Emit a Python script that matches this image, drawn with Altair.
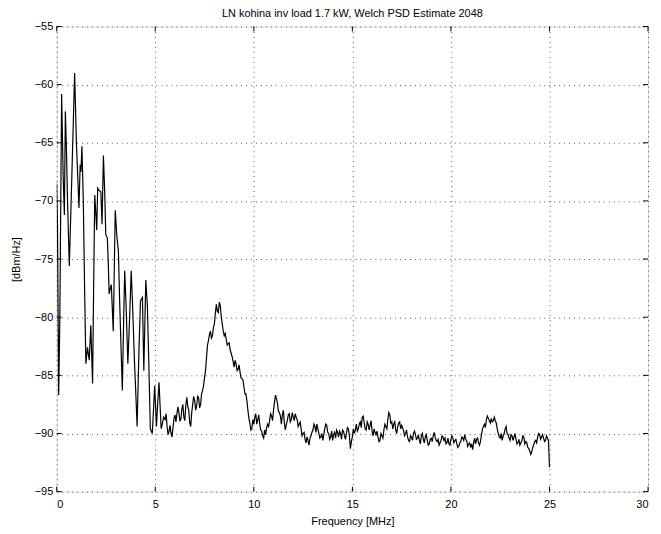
import altair as alt
import pandas as pd

# Low-frequency part (irregular sampling of the strong peaks), MHz / dBm/Hz
freq_a = [0.0, 0.04, 0.1, 0.16, 0.25, 0.33, 0.39, 0.44, 0.5, 0.55, 0.64, 0.75, 0.91, 1.0,
          1.13, 1.19, 1.23, 1.28, 1.35, 1.42, 1.48, 1.56, 1.65, 1.73, 1.82, 1.87, 1.93, 2.0,
          2.03, 2.08, 2.15, 2.24, 2.3, 2.37, 2.44, 2.49, 2.57, 2.62, 2.66, 2.72, 2.77, 2.87,
          2.92, 2.97, 3.05, 3.13, 3.2, 3.33, 3.4, 3.45, 3.52, 3.61, 3.7, 3.78, 3.85, 3.95,
          4.0, 4.08, 4.17, 4.25, 4.35, 4.42, 4.52, 4.6, 4.67, 4.75, 4.85, 4.91, 4.97, 5.06,
          5.12, 5.19, 5.3, 5.43]
psd_a = [-68.5, -72.0, -86.7, -80.0, -60.8, -68.0, -71.2, -62.3, -66.0, -70.0, -75.6, -69.0,
         -59.0, -65.0, -70.6, -66.9, -67.5, -65.3, -70.0, -78.0, -84.0, -82.6, -83.7, -80.7,
         -85.7, -78.0, -69.5, -71.5, -72.5, -68.9, -69.1, -69.2, -72.0, -66.1, -69.5, -72.9,
         -73.2, -75.5, -78.0, -77.5, -77.2, -81.2, -76.0, -70.8, -73.0, -74.3, -79.0, -86.3,
         -80.0, -76.0, -79.0, -84.0, -80.0, -76.0, -79.0, -84.0, -86.0, -89.4, -83.0, -78.6,
         -78.3, -84.6, -76.8, -79.0, -83.7, -89.6, -90.0, -88.0, -85.9, -89.4, -87.5, -85.6,
         -89.6, -88.6]

# 5.5 ... 25.0 MHz, 0.1 MHz steps
psd_b = [-88.8, -89.4, -89.8, -90.0, -89.5,
         -88.4, -88.3, -88.2, -88.8, -87.5, -88.9, -86.9, -88.0, -89.4, -87.5,
         -87.2, -87.6, -86.9, -87.5, -86.3, -85.2, -83.5, -82.0, -81.2, -81.6,
         -80.6, -78.9, -79.6, -79.0, -80.6, -81.6, -81.9, -82.3, -82.8, -83.4,
         -84.3, -84.0, -84.5, -84.7, -85.3, -86.0, -86.6, -88.0, -89.1, -89.6,
         -89.2, -88.3, -88.8, -89.2, -89.8, -90.4, -90.1, -89.2, -88.9, -88.5,
         -88.0, -86.7, -87.4, -88.2, -89.2, -88.0, -89.7, -88.9, -88.3, -88.8,
         -88.6, -88.3, -88.8, -89.2, -89.6, -90.0, -90.5, -90.3, -91.0, -90.2,
         -89.7, -89.4, -89.2, -90.0, -90.3, -90.6, -89.6, -89.3, -90.0, -90.3,
         -90.6, -89.9, -89.7, -90.3, -90.0, -89.7, -90.2, -90.0, -89.6, -91.3,
         -90.3, -90.0, -89.2, -89.6, -89.0, -88.6, -89.1, -89.7, -89.2, -89.3,
         -89.8, -89.6, -90.1, -90.3, -90.6, -90.2, -89.7, -89.4, -88.8, -88.4,
         -89.0, -89.2, -89.7, -89.4, -89.0, -89.3, -89.8, -90.0, -90.3, -90.7,
         -90.3, -90.0, -90.1, -90.4, -90.6, -90.2, -90.5, -90.3, -90.6, -90.9,
         -90.4, -90.2, -90.3, -90.7, -91.0, -90.6, -90.3, -90.4, -90.8, -90.9,
         -90.5, -90.4, -90.6, -90.9, -91.1, -90.7, -90.4, -90.1, -90.6, -90.9,
         -91.2, -91.4, -90.4, -90.5, -90.8, -90.7, -89.6, -89.2, -88.8, -88.7,
         -89.1, -89.0, -88.6, -89.1, -90.0, -90.4, -90.6, -90.0, -89.4, -90.1,
         -90.6, -90.2, -90.3, -90.5, -90.8, -91.0, -90.6, -90.3, -90.7, -91.2,
         -91.5, -91.6, -91.0, -90.6, -90.3, -90.1, -90.3, -90.4, -90.6, -90.4,
         -92.9]
freq_b = [round(5.5 + 0.1 * i, 2) for i in range(len(psd_b))]

# in-between bins 5.55 ... 24.95 MHz (noise texture)
psd_c = [-88.3, -90.1, -89.3, -90.3, -88.7,
         -89.0, -87.7, -88.9, -87.9, -88.6, -87.6, -87.7, -89.1, -88.2, -86.8,
         -88.0, -86.8, -87.8, -86.6, -85.9, -84.6, -82.4, -81.5, -81.8, -80.9,
         -79.6, -79.5, -78.7, -80.0, -81.2, -81.4, -82.4, -82.2, -83.1, -83.8,
         -83.7, -84.6, -84.1, -85.2, -85.4, -86.6, -87.2, -88.7, -89.7, -88.8,
         -88.6, -89.2, -88.4, -89.7, -90.2, -89.7, -89.5, -89.4, -88.3, -88.9,
         -87.3, -87.0, -88.1, -88.5, -88.4, -89.1, -89.2, -88.4, -89.0, -88.2,
         -88.9, -88.6, -89.4, -89.0, -90.2, -89.9, -90.8, -90.6, -90.4, -89.9,
         -89.2, -89.9, -89.6, -90.4, -90.0, -90.1, -89.2, -89.9, -90.5, -89.8,
         -90.1, -90.4, -89.9, -89.8, -90.5, -89.8, -90.5, -89.5, -90.2, -90.7,
         -89.6, -89.7, -89.8, -89.2, -89.5, -88.5, -89.6, -89.0, -89.7, -88.9,
         -90.2, -89.9, -89.8, -90.7, -90.0, -90.4, -89.2, -89.6, -88.2, -89.1,
         -89.6, -89.0, -90.0, -89.1, -89.6, -89.5, -90.2, -89.7, -90.6, -90.2,
         -90.6, -89.8, -90.5, -90.1, -90.9, -90.0, -90.8, -90.1, -91.0, -90.5,
         -90.7, -89.9, -90.6, -90.5, -90.8, -90.2, -90.6, -90.9, -90.4, -91.0,
         -90.2, -90.8, -90.5, -91.2, -90.8, -90.3, -90.6, -90.5, -91.1, -90.8,
         -90.9, -90.8, -90.9, -90.4, -91.0, -90.1, -89.4, -89.5, -88.5, -88.9,
         -88.7, -88.9, -88.9, -89.6, -90.3, -90.0, -90.2, -89.6, -90.0, -90.4,
         -90.1, -90.6, -90.0, -90.9, -90.5, -90.8, -90.2, -90.9, -90.8, -91.3,
         -91.8, -91.2, -90.7, -90.8, -90.0, -90.5, -90.1, -90.7, -90.2, -90.6]
freq_c = [round(5.55 + 0.1 * i, 2) for i in range(len(psd_c))]

x_ticks = [0, 5, 10, 15, 20, 25, 30]
y_ticks = [-95, -90, -85, -80, -75, -70, -65, -60, -55]

title_text = "LN kohina inv load 1.7 kW, Welch PSD Estimate 2048"
x_title = "Frequency [MHz]"
y_title = "[dBm/Hz]"

W, H = 595, 468
FONT = "Liberation Sans"

df = pd.DataFrame({"f": freq_a + freq_b + freq_c, "p": psd_a + psd_b + psd_c})
df = df.sort_values("f").reset_index(drop=True)
xs = alt.Scale(domain=[0, 30], nice=False, zero=False)
ys = alt.Scale(domain=[-95, -55], nice=False, zero=False)

grid_kw = dict(grid=True, gridDash=[1, 4], gridColor="#000000", gridOpacity=0.65,
               gridWidth=1, ticks=False, tickSize=0, domain=False,
               labelFont=FONT, labelFontSize=11, labelColor="#000000",
               titleFont=FONT, titleFontSize=11, titleFontWeight="normal",
               titleColor="#000000")

line = alt.Chart(df).mark_line(color="black", strokeWidth=1.2, clip=True).encode(
    x=alt.X("f:Q", scale=xs,
            axis=alt.Axis(values=x_ticks, title=x_title, labelPadding=7,
                          titleX=W / 2, titleY=30, titleBaseline="middle",
                          titleAlign="center", **grid_kw)),
    y=alt.Y("p:Q", scale=ys,
            axis=alt.Axis(values=y_ticks, title=y_title, labelPadding=4,
                          titleX=-40, titleY=H / 2, titleBaseline="middle",
                          titleAlign="center", titleAngle=-90, **grid_kw)),
    order=alt.Order("f:Q"),
)

xt = pd.DataFrame({"f": x_ticks})
yt = pd.DataFrame({"p": y_ticks})

xt_bottom = alt.Chart(xt).mark_rule(color="black", strokeWidth=1).encode(
    x=alt.X("f:Q", scale=xs), y=alt.value(H), y2=alt.value(H - 5))
xt_top = alt.Chart(xt).mark_rule(color="black", strokeWidth=1).encode(
    x=alt.X("f:Q", scale=xs), y=alt.value(0), y2=alt.value(5))
yt_left = alt.Chart(yt).mark_rule(color="black", strokeWidth=1).encode(
    y=alt.Y("p:Q", scale=ys), x=alt.value(0), x2=alt.value(5))
yt_right = alt.Chart(yt).mark_rule(color="black", strokeWidth=1).encode(
    y=alt.Y("p:Q", scale=ys), x=alt.value(W - 5), x2=alt.value(W))

chart = alt.layer(line, xt_bottom, xt_top, yt_left, yt_right).properties(
    width=W, height=H,
    title=alt.Title(title_text, font=FONT, fontSize=11, fontWeight="normal",
                    color="#000000", anchor="middle", offset=2),
    autosize=alt.AutoSizeParams(type="none"),
    padding={"left": 49, "top": 17, "right": 5, "bottom": 36},
).configure_view(stroke="black", strokeWidth=1.2).configure(background="white")

chart.save("out.html", embed_options={"renderer": "svg", "actions": False})
